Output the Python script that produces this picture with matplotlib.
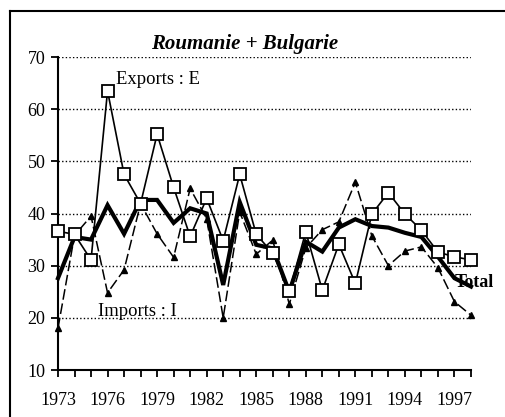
import matplotlib
matplotlib.use("Agg")
import matplotlib.pyplot as plt
from matplotlib.lines import Line2D

# ── Data ──────────────────────────────────────────────────────────────────────
YEARS = list(range(1973, 1999))
EXPORTS = [36.6, 36.0, 31.1, 63.5, 47.5, 41.9, 55.2, 45.0, 35.6, 42.9,
           34.8, 47.5, 36.0, 32.4, 25.1, 36.5, 25.3, 34.1, 26.6, 39.9,
           44.0, 39.9, 36.8, 32.6, 31.7, 31.1]
IMPORTS = [18.0, 35.8, 39.5, 24.8, 29.2, 41.9, 36.1, 31.6, 44.8, 39.0,
           20.0, 40.3, 32.2, 34.9, 22.6, 33.4, 36.9, 38.4, 46.0, 35.7,
           30.0, 32.8, 33.6, 29.6, 23.1, 20.5]
TOTAL = [27.6, 35.5, 35.0, 41.6, 36.1, 42.6, 42.6, 38.2, 41.0, 40.0,
         26.3, 42.2, 34.0, 33.3, 25.0, 34.6, 32.7, 37.3, 38.9, 37.6,
         37.3, 36.3, 35.5, 31.7, 27.6, 26.0]
XTICKS = list(range(1973, 1998, 3))
YTICKS = [10, 20, 30, 40, 50, 60, 70]

plt.rcParams["font.family"] = ["Liberation Serif", "DejaVu Serif"]

fig = plt.figure(figsize=(5.06, 4.17), dpi=100)
ax = fig.add_axes([0.1146, 0.1127, 0.8162, 0.7506])

# ── Lines ────────────────────────────────────────────────────────────────────
ax.plot(YEARS, IMPORTS, color="black", lw=1.1, linestyle=(0, (7, 2.5)),
        marker="^", markersize=5, markerfacecolor="black",
        markeredgecolor="black", zorder=3, clip_on=False)
ax.plot(YEARS, TOTAL, color="black", lw=3.0, solid_joinstyle="miter",
        zorder=4, clip_on=False)
ax.plot(YEARS, EXPORTS, color="black", lw=1.2, marker="s", markersize=8.5,
        markerfacecolor="white", markeredgecolor="black",
        markeredgewidth=1.3, zorder=5, clip_on=False)

# ── Axes ─────────────────────────────────────────────────────────────────────
ax.set_xlim(1973, 1998)
ax.set_ylim(10, 70)
ax.set_xticks(YEARS, minor=True)
ax.set_xticks(XTICKS)
ax.set_xticklabels([str(y) for y in XTICKS])
ax.set_yticks(YTICKS)
ax.tick_params(axis="both", which="both", direction="out", length=5,
               width=1.3, labelsize=13, colors="black")
ax.tick_params(axis="x", which="major", pad=11)
ax.tick_params(axis="y", pad=4)
for side in ("top", "right"):
    ax.spines[side].set_visible(False)
for side in ("left", "bottom"):
    ax.spines[side].set_linewidth(1.5)
for y in YTICKS[1:]:
    ax.axhline(y, color="black", lw=1.0, linestyle=(0, (1, 1.6)), zorder=1)

# ── Labels ───────────────────────────────────────────────────────────────────
fig.text(245 / 506, 1 - 44 / 417, "Roumanie + Bulgarie", fontsize=15,
         fontweight="bold", style="italic", ha="center", va="center")
ax.text(1976.5, 65.6, "Exports : E", fontsize=13.4, va="center", ha="left")
ax.text(1975.4, 21.3, "Imports : I", fontsize=13.4, va="center", ha="left")
ax.text(1997.0, 26.8, "Total", fontsize=13, fontweight="bold",
        va="center", ha="left", clip_on=False, zorder=6)

# ── Outer frame (left and top edges visible) ─────────────────────────────────
fig.add_artist(Line2D([10 / 506, 10 / 506], [0, 1 - 11 / 417],
                      transform=fig.transFigure, color="black", lw=1.5))
fig.add_artist(Line2D([10 / 506, 1], [1 - 11 / 417, 1 - 11 / 417],
                      transform=fig.transFigure, color="black", lw=1.5))

fig.savefig("out.png", dpi=100)
